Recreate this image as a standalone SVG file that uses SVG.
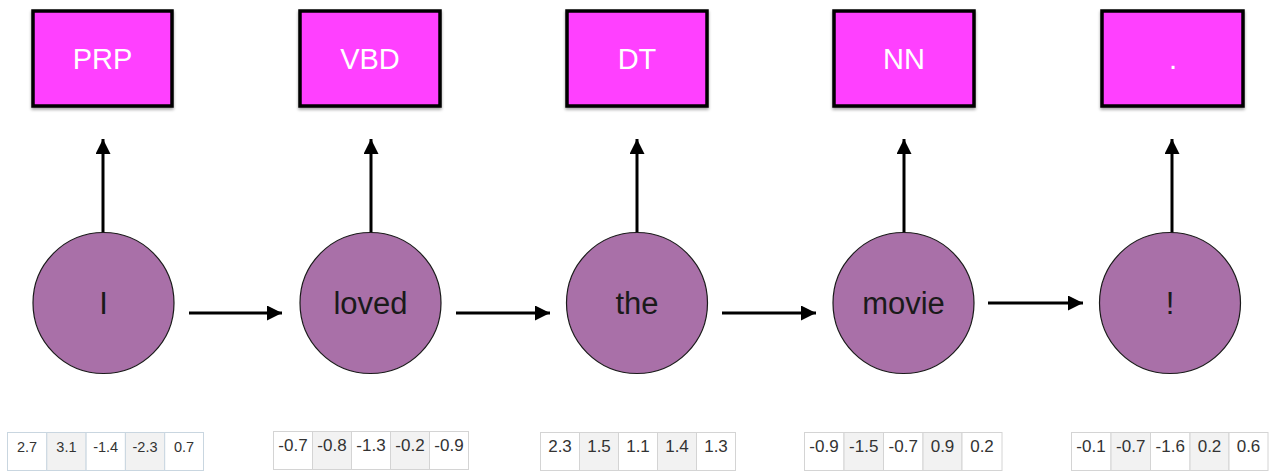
<svg xmlns="http://www.w3.org/2000/svg" width="1269" height="471" viewBox="0 0 1269 471">
<style>
.box{fill:#ff40ff;stroke:#000;stroke-width:3.5}
.bl{font-family:"Liberation Sans","Helvetica Neue",Arial,sans-serif;font-size:29px;fill:#fff;text-anchor:middle}
.node{fill:#a970a8;stroke:#1a1a1a;stroke-width:1.2}
.nl{font-family:"Liberation Sans","Helvetica Neue",Arial,sans-serif;font-size:31px;fill:#1a1a1a;text-anchor:middle}
.edge{stroke:#000;stroke-width:3;fill:none;marker-end:url(#ah)}
.c{stroke:#d4d4d4;stroke-width:1;fill:#fff}
.c1{stroke:#c9d6e0;stroke-width:1;fill:#fff}
.s{fill:#f2f2f2}
.t{font-family:"Liberation Sans","Helvetica Neue",Arial,sans-serif;font-size:17px;fill:#333;text-anchor:middle}
.t1{font-family:"Liberation Sans","Helvetica Neue",Arial,sans-serif;font-size:14.5px;fill:#333;text-anchor:middle}
</style>
<defs>
<marker id="ah" markerWidth="5" markerHeight="5" refX="5" refY="2.5" orient="auto" markerUnits="strokeWidth">
<path d="M0,0 L5,2.5 L0,5 Z" fill="#000"/>
</marker>
<filter id="sh" x="-10%" y="-10%" width="120%" height="130%">
<feDropShadow dx="0" dy="2" stdDeviation="1.5" flood-color="#000" flood-opacity="0.35"/>
</filter>
</defs>
<rect width="1269" height="471" fill="#fff"/>
<g id="tags">
<g id="tag-PRP"><rect class="box" x="33" y="11" width="139" height="95" filter="url(#sh)"/><text class="bl" x="102.5" y="69">PRP</text></g>
<g id="tag-VBD"><rect class="box" x="300" y="11" width="140" height="95" filter="url(#sh)"/><text class="bl" x="370" y="69">VBD</text></g>
<g id="tag-DT"><rect class="box" x="567" y="11" width="140" height="95" filter="url(#sh)"/><text class="bl" x="637" y="69">DT</text></g>
<g id="tag-NN"><rect class="box" x="834" y="11" width="140" height="95" filter="url(#sh)"/><text class="bl" x="904" y="69">NN</text></g>
<g id="tag-dot"><rect class="box" x="1102" y="11" width="141" height="95" filter="url(#sh)"/><text class="bl" x="1173" y="69">.</text></g>
</g>
<g id="connectors">
<line class="edge" x1="103" y1="233" x2="103" y2="139"/>
<line class="edge" x1="371" y1="233" x2="371" y2="139"/>
<line class="edge" x1="637" y1="233" x2="637" y2="139"/>
<line class="edge" x1="904" y1="233" x2="904" y2="139"/>
<line class="edge" x1="1172" y1="233" x2="1172" y2="139"/>
<line class="edge" x1="189" y1="313" x2="282" y2="313"/>
<line class="edge" x1="456" y1="313" x2="550" y2="313"/>
<line class="edge" x1="722" y1="313" x2="816" y2="313"/>
<line class="edge" x1="988" y1="303" x2="1083" y2="303"/>
</g>
<g id="words">
<g id="w-I"><circle class="node" cx="103.5" cy="303" r="70.5"/><text class="nl" x="103.5" y="314">I</text></g>
<g id="w-loved"><circle class="node" cx="370.5" cy="303" r="70.5"/><text class="nl" x="370.5" y="314">loved</text></g>
<g id="w-the"><circle class="node" cx="637" cy="303" r="70.5"/><text class="nl" x="637" y="314">the</text></g>
<g id="w-movie"><circle class="node" cx="903.5" cy="303" r="70.5"/><text class="nl" x="903.5" y="314">movie</text></g>
<g id="w-excl"><circle class="node" cx="1170" cy="303" r="70.5"/><text class="nl" x="1170" y="314">!</text></g>
</g>
<g id="vec-I">
<rect class="c1" x="7.5" y="432.5" width="39.3" height="38"/>
<rect class="c1 s" x="46.8" y="432.5" width="39.3" height="38"/>
<rect class="c1" x="86.1" y="432.5" width="39.3" height="38"/>
<rect class="c1 s" x="125.4" y="432.5" width="39.3" height="38"/>
<rect class="c1" x="164.7" y="432.5" width="38.8" height="38"/>
<text class="t1" x="27" y="452">2.7</text><text class="t1" x="66.4" y="452">3.1</text><text class="t1" x="105.7" y="452">-1.4</text><text class="t1" x="145" y="452">-2.3</text><text class="t1" x="184.1" y="452">0.7</text>
</g>
<g id="vec-loved">
<rect class="c" x="273.5" y="431.5" width="39" height="38"/>
<rect class="c s" x="312.5" y="431.5" width="39" height="38"/>
<rect class="c" x="351.5" y="431.5" width="39" height="38"/>
<rect class="c s" x="390.5" y="431.5" width="39" height="38"/>
<rect class="c" x="429.5" y="431.5" width="39" height="38"/>
<text class="t" x="293" y="451">-0.7</text><text class="t" x="332" y="451">-0.8</text><text class="t" x="371" y="451">-1.3</text><text class="t" x="410" y="451">-0.2</text><text class="t" x="449" y="451">-0.9</text>
</g>
<g id="vec-the">
<rect class="c" x="540.5" y="432.5" width="39" height="38"/>
<rect class="c s" x="579.5" y="432.5" width="39" height="38"/>
<rect class="c" x="618.5" y="432.5" width="39" height="38"/>
<rect class="c s" x="657.5" y="432.5" width="39" height="38"/>
<rect class="c" x="696.5" y="432.5" width="39" height="38"/>
<text class="t" x="560" y="452">2.3</text><text class="t" x="599" y="452">1.5</text><text class="t" x="638" y="452">1.1</text><text class="t" x="677" y="452">1.4</text><text class="t" x="716" y="452">1.3</text>
</g>
<g id="vec-movie">
<rect class="c" x="804.5" y="432.5" width="39.5" height="38"/>
<rect class="c s" x="844" y="432.5" width="39.5" height="38"/>
<rect class="c" x="883.5" y="432.5" width="39.5" height="38"/>
<rect class="c s" x="923" y="432.5" width="39" height="38"/>
<rect class="c" x="962" y="432.5" width="40" height="38"/>
<text class="t" x="824" y="452">-0.9</text><text class="t" x="863.7" y="452">-1.5</text><text class="t" x="903.2" y="452">-0.7</text><text class="t" x="942.5" y="452">0.9</text><text class="t" x="982" y="452">0.2</text>
</g>
<g id="vec-excl">
<rect class="c" x="1071.5" y="432.5" width="39.5" height="38"/>
<rect class="c s" x="1111" y="432.5" width="39.5" height="38"/>
<rect class="c" x="1150.5" y="432.5" width="39.5" height="38"/>
<rect class="c s" x="1190" y="432.5" width="39" height="38"/>
<rect class="c" x="1229" y="432.5" width="39" height="38"/>
<text class="t" x="1091" y="452">-0.1</text><text class="t" x="1130.7" y="452">-0.7</text><text class="t" x="1170.2" y="452">-1.6</text><text class="t" x="1209.5" y="452">0.2</text><text class="t" x="1248.5" y="452">0.6</text>
</g>
</svg>
